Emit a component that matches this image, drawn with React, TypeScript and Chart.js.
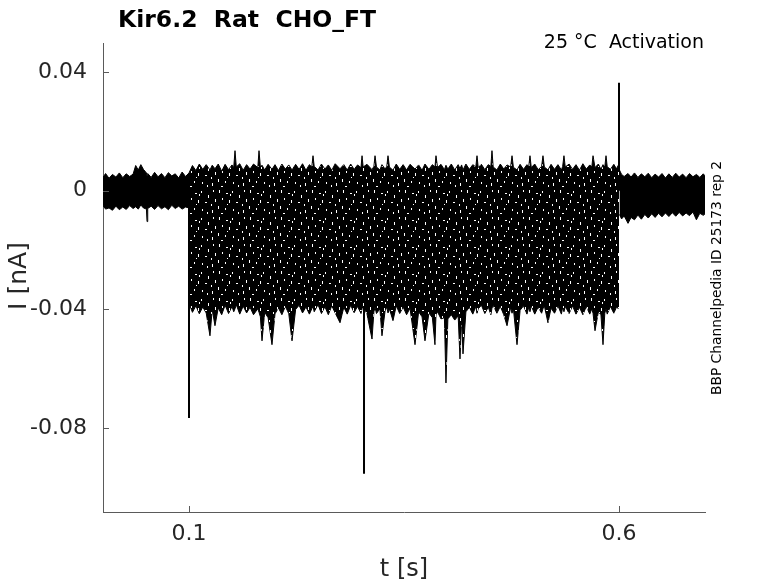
import { useEffect, useRef } from "react";
import { Chart, registerables } from "chart.js";

Chart.register(...registerables);

// x ticks [s] and y ticks [nA]
const xTicks = [0.1, 0.6];
const yTicks = [0.04, 0, -0.04, -0.08];

// holding period before the step (0 - 0.1 s), upper / lower envelope of the sweeps
const tPre = [0, 0.003, 0.007, 0.011, 0.015, 0.019, 0.023, 0.027, 0.031, 0.035, 0.038, 0.041, 0.044, 0.047, 0.0505, 0.0512, 0.052, 0.056, 0.06, 0.064, 0.068, 0.072, 0.076, 0.08, 0.084, 0.088, 0.092, 0.096, 0.1];
const preUpper = [0.0045, 0.0058, 0.0042, 0.0055, 0.0046, 0.006, 0.0044, 0.0057, 0.0048, 0.0056, 0.0085, 0.007, 0.0088, 0.0072, 0.006, 0.005, 0.0058, 0.0045, 0.0062, 0.0047, 0.0058, 0.0044, 0.0061, 0.005, 0.0057, 0.0043, 0.0063, 0.0048, 0.006];
const preLower = [-0.005, -0.0062, -0.0058, -0.0066, -0.0052, -0.0064, -0.0055, -0.0063, -0.005, -0.006, -0.0054, -0.0062, -0.0048, -0.0058, -0.0062, -0.0104, -0.006, -0.0052, -0.0063, -0.005, -0.0061, -0.0054, -0.0064, -0.0049, -0.006, -0.0052, -0.0062, -0.0055, -0.0058];

// step period (0.1 - 0.6 s)
const tStep = [
  0.1, 0.104, 0.108, 0.112, 0.116, 0.12, 0.1244, 0.127, 0.1302, 0.134,
  0.138, 0.142, 0.146, 0.15, 0.152, 0.1535, 0.155, 0.159, 0.163, 0.167,
  0.171, 0.175, 0.18, 0.1814, 0.183, 0.1849, 0.188, 0.192, 0.1965, 0.2,
  0.204, 0.208, 0.212, 0.216, 0.2198, 0.224, 0.228, 0.232, 0.236, 0.24,
  0.2428, 0.2442, 0.2456, 0.25, 0.254, 0.258, 0.262, 0.266, 0.27, 0.2756,
  0.28, 0.284, 0.288, 0.292, 0.296, 0.3, 0.3012, 0.3025, 0.307, 0.3128,
  0.315, 0.3163, 0.318, 0.322, 0.3244, 0.328, 0.33, 0.3314, 0.333, 0.3372,
  0.341, 0.345, 0.349, 0.353, 0.357, 0.3628, 0.367, 0.371, 0.3744, 0.379,
  0.383, 0.386, 0.3872, 0.389, 0.393, 0.397, 0.3988, 0.401, 0.405, 0.409,
  0.413, 0.4151, 0.417, 0.4186, 0.422, 0.426, 0.43, 0.4335, 0.4349, 0.4363,
  0.44, 0.444, 0.448, 0.451, 0.4523, 0.4537, 0.458, 0.462, 0.466, 0.4698,
  0.474, 0.4756, 0.4772, 0.4814, 0.485, 0.489, 0.493, 0.495, 0.4965, 0.498,
  0.502, 0.506, 0.51, 0.5116, 0.5132, 0.5174, 0.521, 0.525, 0.529, 0.533,
  0.5345, 0.536, 0.5375, 0.542, 0.546, 0.55, 0.554, 0.558, 0.562, 0.566,
  0.5684, 0.5698, 0.5721, 0.576, 0.579, 0.5814, 0.5835, 0.5849, 0.5863, 0.59,
  0.594, 0.597, 0.6,
];
const stepUpper = [
  0.006, 0.0085, 0.0068, 0.009, 0.0072, 0.0088, 0.007, 0.0086, 0.0074, 0.009,
  0.0066, 0.0089, 0.0071, 0.0087, 0.0078, 0.0135, 0.008, 0.0091, 0.0069, 0.0088,
  0.0073, 0.009, 0.0078, 0.0135, 0.008, 0.0086, 0.007, 0.0089, 0.0072, 0.0088,
  0.0068, 0.009, 0.0073, 0.0087, 0.007, 0.0089, 0.0072, 0.0091, 0.0069, 0.0088,
  0.008, 0.0118, 0.0082, 0.007, 0.009, 0.0073, 0.0087, 0.0069, 0.0091, 0.0074,
  0.0088, 0.007, 0.009, 0.0072, 0.0087, 0.0078, 0.0118, 0.008, 0.0089, 0.0071,
  0.0082, 0.0118, 0.008, 0.007, 0.0088, 0.0073, 0.0082, 0.0118, 0.008, 0.0069,
  0.009, 0.0072, 0.0088, 0.007, 0.0089, 0.0073, 0.0087, 0.0069, 0.009, 0.0072,
  0.0088, 0.008, 0.0118, 0.0078, 0.0089, 0.0071, 0.0086, 0.0073, 0.009, 0.007,
  0.0088, 0.0074, 0.0087, 0.007, 0.009, 0.0072, 0.0088, 0.008, 0.0118, 0.0078,
  0.0089, 0.0071, 0.0088, 0.0082, 0.0135, 0.008, 0.007, 0.009, 0.0073, 0.0087,
  0.008, 0.0118, 0.0079, 0.007, 0.0089, 0.0072, 0.0088, 0.008, 0.0118, 0.0078,
  0.009, 0.0071, 0.0082, 0.0118, 0.008, 0.007, 0.0089, 0.0072, 0.0088, 0.007,
  0.0082, 0.0118, 0.008, 0.009, 0.0072, 0.0088, 0.0069, 0.0091, 0.0073, 0.0087,
  0.008, 0.0118, 0.0078, 0.009, 0.0072, 0.0088, 0.008, 0.0118, 0.0081, 0.0072,
  0.0089, 0.0074, 0.009,
];
const stepLower = [
  -0.038, -0.041, -0.0388, -0.0415, -0.0392, -0.0412, -0.0489, -0.04, -0.0455, -0.0395,
  -0.0418, -0.0386, -0.0414, -0.039, -0.0408, -0.0398, -0.0384, -0.0416, -0.0389, -0.0412,
  -0.0393, -0.0418, -0.0398, -0.041, -0.0425, -0.0506, -0.041, -0.0428, -0.0519, -0.0415,
  -0.0395, -0.0418, -0.039, -0.0414, -0.0506, -0.04, -0.0386, -0.0412, -0.0392, -0.0416,
  -0.0398, -0.039, -0.0408, -0.0384, -0.0414, -0.0391, -0.0418, -0.0388, -0.0412, -0.0445,
  -0.0393, -0.0416, -0.0386, -0.0411, -0.039, -0.0414, -0.0398, -0.0388, -0.0416, -0.05,
  -0.0408, -0.0393, -0.0414, -0.0398, -0.0489, -0.0405, -0.0392, -0.0412, -0.0398, -0.0438,
  -0.0388, -0.0414, -0.0392, -0.0418, -0.0396, -0.0519, -0.0408, -0.0425, -0.0506, -0.0412,
  -0.0428, -0.0519, -0.0418, -0.0408, -0.0432, -0.0428, -0.0648, -0.0432, -0.0418, -0.0436,
  -0.0422, -0.0567, -0.0428, -0.055, -0.0408, -0.0393, -0.0416, -0.039, -0.0413, -0.0398,
  -0.0386, -0.0414, -0.0392, -0.0418, -0.0396, -0.0386, -0.0413, -0.039, -0.0418, -0.0455,
  -0.0393, -0.0413, -0.0398, -0.0519, -0.0403, -0.0388, -0.0416, -0.0393, -0.0408, -0.0388,
  -0.0416, -0.0392, -0.0413, -0.0398, -0.0388, -0.0445, -0.0396, -0.0413, -0.0388, -0.0416,
  -0.0393, -0.0408, -0.039, -0.0414, -0.0388, -0.0416, -0.0393, -0.0418, -0.039, -0.0416,
  -0.0398, -0.0413, -0.0472, -0.0408, -0.0418, -0.0519, -0.0413, -0.0398, -0.0416, -0.039,
  -0.0413, -0.0393, -0.0398,
];

// after the step (0.6 - 0.7 s)
const tPost = [0.6005, 0.603, 0.606, 0.6105, 0.614, 0.618, 0.622, 0.626, 0.63, 0.634, 0.638, 0.642, 0.646, 0.65, 0.654, 0.658, 0.662, 0.666, 0.67, 0.674, 0.678, 0.682, 0.686, 0.69, 0.694, 0.698, 0.7];
const postUpper = [0.007, 0.0055, 0.0048, 0.0058, 0.0046, 0.006, 0.0045, 0.0057, 0.0047, 0.0059, 0.0044, 0.0056, 0.0046, 0.0058, 0.0043, 0.0057, 0.0045, 0.0059, 0.0046, 0.0056, 0.0044, 0.0058, 0.0047, 0.0055, 0.0045, 0.0057, 0.005];
const postLower = [-0.008, -0.0095, -0.0085, -0.011, -0.009, -0.0098, -0.0082, -0.0096, -0.008, -0.0092, -0.0078, -0.009, -0.0076, -0.0088, -0.0075, -0.0087, -0.0074, -0.0086, -0.0073, -0.0085, -0.0075, -0.0084, -0.0072, -0.0098, -0.0076, -0.0083, -0.0078];

// capacitive transients / artefacts
const spikeTimes = [0.1, 0.3035, 0.6];
const spikeBase = [0, -0.03, 0];
const spikePeak = [-0.0766, -0.0954, 0.0364];

const FONT = "DejaVu Sans";
const TEXT = "#262626";
const AXIS = "#5a5a5a";

const pts = (t: number[], v: number[]) => t.map((x, i) => ({ x, y: v[i] }));

// black fill with small gaps, like many overlapping noisy sweeps
const gaps = [
  [2, 1, 1, 3], [9, 4, 2, 1], [15, 2, 1, 2], [22, 6, 1, 3], [27, 1, 1, 2],
  [5, 9, 1, 2], [12, 11, 1, 3], [19, 13, 2, 1], [25, 15, 1, 2], [1, 17, 1, 3],
  [8, 19, 1, 2], [16, 20, 1, 2], [29, 10, 1, 3], [21, 23, 1, 2], [4, 24, 2, 1],
  [13, 5, 1, 2], [26, 21, 1, 3], [10, 15, 1, 1],
];
const sweepPattern = () => {
  const c = document.createElement("canvas");
  c.width = 31;
  c.height = 27;
  const g = c.getContext("2d")!;
  g.fillStyle = "#000";
  g.fillRect(0, 0, c.width, c.height);
  g.fillStyle = "#fff";
  gaps.forEach(([gx, gy, gw, gh]) => g.fillRect(gx, gy, gw, gh));
  return g.createPattern(c, "repeat")!;
};

const band = (t: number[], up: number[], lo: number[], fillStyle: any) => [
  {
    data: pts(t, up),
    fill: "+1",
    backgroundColor: fillStyle,
    borderColor: "#000",
    borderWidth: 1,
    pointRadius: 0,
  },
  {
    data: pts(t, lo),
    fill: false,
    borderColor: "#000",
    borderWidth: 1,
    pointRadius: 0,
  },
];

const labelsPlugin = {
  id: "matlabLabels",
  afterDraw(chart: any) {
    const { ctx, chartArea, scales } = chart;
    const x = scales.x;
    const y = scales.y;
    ctx.save();

    // inward tick marks
    ctx.strokeStyle = AXIS;
    ctx.lineWidth = 1;
    ctx.beginPath();
    yTicks.forEach((v) => {
      const py = Math.round(y.getPixelForValue(v)) + 0.5;
      ctx.moveTo(chartArea.left, py);
      ctx.lineTo(chartArea.left + 6, py);
    });
    xTicks.forEach((v) => {
      const px = Math.round(x.getPixelForValue(v)) + 0.5;
      ctx.moveTo(px, chartArea.bottom);
      ctx.lineTo(px, chartArea.bottom - 6);
    });
    ctx.stroke();

    ctx.fillStyle = "#000";
    ctx.font = `bold 23.5px "${FONT}"`;
    ctx.textAlign = "left";
    ctx.textBaseline = "alphabetic";
    ctx.fillText("Kir6.2  Rat  CHO_FT", 118, 27);

    ctx.font = `19px "${FONT}"`;
    ctx.textAlign = "right";
    ctx.fillText("25 °C  Activation", 704, 48);

    ctx.fillStyle = TEXT;
    ctx.font = `24px "${FONT}"`;
    ctx.textAlign = "center";
    ctx.fillText("t [s]", (chartArea.left + chartArea.right) / 2, 576);

    ctx.save();
    ctx.translate(26, 276);
    ctx.rotate(-Math.PI / 2);
    ctx.font = `25px "${FONT}"`;
    ctx.fillText("I [nA]", 0, 0);
    ctx.restore();

    ctx.save();
    ctx.translate(721, 278);
    ctx.rotate(-Math.PI / 2);
    ctx.fillStyle = "#000";
    ctx.font = `13.8px "${FONT}"`;
    ctx.textAlign = "center";
    ctx.fillText("BBP Channelpedia ID 25173 rep 2", 0, 0);
    ctx.restore();

    ctx.restore();
  },
};

const App = () => {
  const canvasRef = useRef<HTMLCanvasElement>(null);

  useEffect(() => {
    if (!canvasRef.current) return;
    const pattern = sweepPattern();
    const spikes = spikeTimes.map((t, i) => ({
      data: [
        { x: t, y: spikeBase[i] },
        { x: t, y: spikePeak[i] },
      ],
      fill: false,
      borderColor: "#000",
      borderWidth: 2,
      pointRadius: 0,
    }));

    const chart = new Chart(canvasRef.current, {
      type: "line",
      data: {
        datasets: [
          ...band(tPre, preUpper, preLower, "#000"),
          ...band(tStep, stepUpper, stepLower, pattern),
          ...band(tPost, postUpper, postLower, "#000"),
          ...spikes,
        ] as any,
      },
      options: {
        responsive: false,
        animation: false,
        layout: { padding: { top: 43, right: 73, left: 0, bottom: 0 } },
        elements: { line: { tension: 0 } },
        plugins: {
          legend: { display: false },
          tooltip: { enabled: false },
          title: { display: false },
        },
        scales: {
          x: {
            type: "linear",
            min: 0,
            max: 0.7,
            afterFit: (scale: any) => {
              scale.height = 71;
            },
            afterBuildTicks: (scale: any) => {
              scale.ticks = xTicks.map((value) => ({ value }));
            },
            grid: { display: false, drawTicks: false },
            border: { display: true, color: AXIS, width: 1 },
            ticks: {
              padding: 9,
              color: TEXT,
              font: { family: FONT, size: 22 },
              maxRotation: 0,
              callback: (v: any) => String(v),
            },
          },
          y: {
            type: "linear",
            min: -0.1083,
            max: 0.0498,
            afterFit: (scale: any) => {
              scale.width = 103;
            },
            afterBuildTicks: (scale: any) => {
              scale.ticks = yTicks.map((value) => ({ value }));
            },
            grid: { display: false, drawTicks: false },
            border: { display: true, color: AXIS, width: 1 },
            ticks: {
              padding: 16,
              color: TEXT,
              font: { family: FONT, size: 22 },
              callback: (v: any) => String(v),
            },
          },
        },
      },
      plugins: [labelsPlugin],
    });
    return () => {
      chart.destroy();
    };
  }, []);

  return (
    <div style={{ position: "fixed", left: 0, top: 0, width: 778, height: 583, background: "#fff" }}>
      <canvas ref={canvasRef} width={778} height={583} style={{ display: "block" }}></canvas>
    </div>
  );
};

export default App;
